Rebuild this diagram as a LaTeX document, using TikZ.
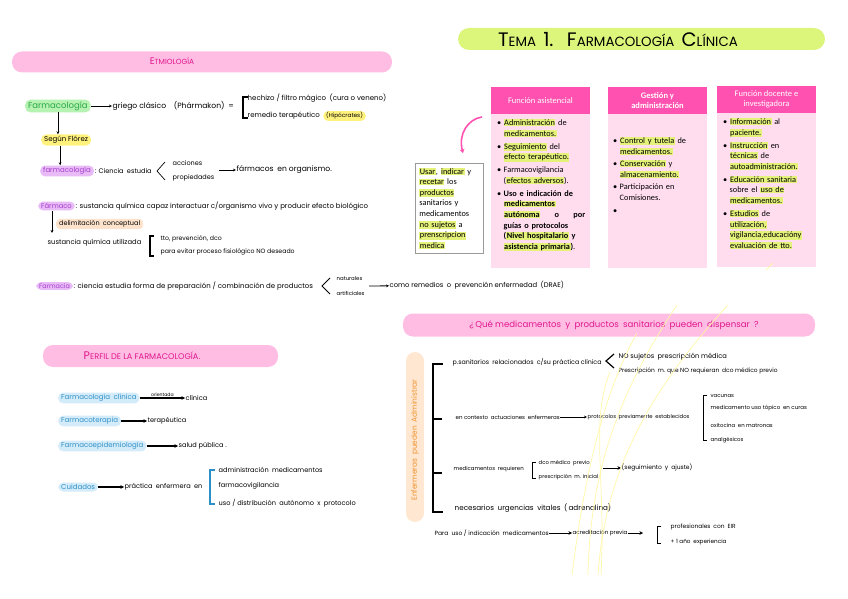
\documentclass[tikz,border=0pt]{standalone}
\usepackage{fontspec}
\setmainfont{Poppins}
\newfontfamily\calib{Carlito}
\usepackage{xcolor}
\usetikzlibrary{arrows.meta,positioning}

\definecolor{banpink}{HTML}{FFBDE4}
\definecolor{magtxt}{HTML}{E0168B}
\definecolor{headpink}{HTML}{FF52B0}
\definecolor{bodypink}{HTML}{FFDDEF}
\definecolor{limetitle}{HTML}{DCF67C}
\definecolor{greenpill}{HTML}{B6F2B1}
\definecolor{greentxt}{HTML}{2BA84A}
\definecolor{yellowhl}{HTML}{FFF27C}
\definecolor{purplepill}{HTML}{E8BBF7}
\definecolor{purpletxt}{HTML}{A43CCB}
\definecolor{peach}{HTML}{FDE3CB}
\definecolor{bluepill}{HTML}{D4ECFA}
\definecolor{bluetxt}{HTML}{2C8FC7}
\definecolor{orangepill}{HTML}{FFE7D1}
\definecolor{orangetxt}{HTML}{F0922E}
\definecolor{hlime}{HTML}{E4F27A}
\definecolor{boxgray}{HTML}{9A9A9A}
\definecolor{paleyellow}{HTML}{FFF7A6}

\newcommand{\hl}[1]{{\setlength{\fboxsep}{0.5pt}\colorbox{hlime}{#1}}}
\newcommand{\bul}{\makebox[6.5pt][l]{\textbullet}}
\newcommand{\ind}{\hspace*{6.5pt}}
\newcommand{\initial}[2]{{\fontsize{#1}{#1}\selectfont #2}}
\newcommand{\fs}[1]{\fontsize{#1}{#1}\selectfont}

\begin{document}
\begin{tikzpicture}[x=1pt,y=-1pt,
    hw/.style={font=\fs{6.6}, inner sep=0.5pt, anchor=west},
    hws/.style={font=\fs{5.4}, inner sep=0.5pt, anchor=west},
    tiny/.style={font=\fs{4.6}, inner sep=0.5pt, anchor=west},
    pill/.style={rounded corners=5pt, inner xsep=3pt, inner ysep=1.8pt, anchor=west},
    banner/.style={fill=banpink, rounded corners=10pt, minimum height=21pt},
    bantext/.style={text=magtxt, inner sep=0.5pt},
    head/.style={fill=headpink, text=white, font=\calib\fontsize{8.5}{10}\selectfont, align=center,
      minimum width=99pt, minimum height=27pt, inner sep=1pt},
    boxtxt/.style={font=\calib\fontsize{8.3}{10.6}\selectfont, align=left, anchor=north west, inner sep=0pt},
    arr/.style={-{Stealth[length=3pt,width=2.8pt]}, line width=0.5pt},
    barr/.style={-{Stealth[length=3.6pt,width=3.8pt]}, line width=1.3pt},
    brk/.style={line width=1.2pt},
    yline/.style={paleyellow, line width=0.7pt}]
  \useasboundingbox (0,0) rectangle (848,599);

  % etimologia
  \node[banner, minimum width=380pt] (etimbar) at (202,62) {};
  \node[bantext, font=\fs{7.4}] (etim) at (172,61) {\initial{9.5}{E}TMIOLOGÍA};

  \node[pill, fill=greenpill, text=greentxt, font=\fs{8.5}] (farmgr) at (25,106) {Farmacología};
  \node[hw, font=\fs{7.6}] (griego) at (112,106) {griego clásico\quad (Phármakon)\enspace =};
  \draw[arr] (farmgr) -- (griego);
  \draw[brk] (248,97) -- (243,97) -- (243,118) -- (248,118);
  \node[hw, font=\fs{7}] (hechizo) at (247,98) {hechizo / filtro mágico\enspace (cura o veneno)};
  \node[hw, font=\fs{7}] (remedio) at (247,116) {remedio terapéutico};
  \node[pill, fill=yellowhl, font=\fs{5.8}, inner ysep=1.5pt] (hipo) at (323,116) {(Hipócrates)};

  \node[pill, fill=yellowhl, font=\fs{7}] (flor) at (41,140) {Según Flórez};
  \draw[arr] (farmgr.south) -- (farmgr.south |- flor.north);
  \node[pill, fill=purplepill, text=purpletxt, font=\fs{7}] (farmacol) at (40,171) {farmacología};
  \draw[arr] ([xshift=-6pt]flor.south) -- ([xshift=-6pt]flor.south |- farmacol.north);
  \node[hw] (ciencia) at (farmacol.east) {: Ciencia\enspace estudia};
  \draw[line width=0.7pt] (165,162) -- (157,171) -- (165,180);
  \node[hws, font=\fs{6.5}] (acciones) at (172,163) {acciones};
  \node[hws, font=\fs{6.5}] (propied) at (172,178) {propiedades};
  \coordinate (aprop) at (219,170);
  \node[hw, font=\fs{7.6}] (farmacos) at (236,170) {fármacos\enspace en organismo.};
  \draw[arr] (aprop) -- (farmacos);

  \node[pill, fill=purplepill, text=purpletxt, font=\fs{6.8}] (farmaco) at (38,206) {Fármaco};
  \node[hw, font=\fs{7}] (sustancia) at (farmaco.east) {: sustancia química capaz interactuar c/organismo vivo y producir efecto biológico};
  \coordinate (dlow) at (52,233);
  \draw[arr] (farmaco.south -| dlow) -- (dlow);
  \node[pill, fill=peach, font=\fs{6.5}, rounded corners=4pt] (delim) at (56,224) {delimitación\enspace conceptual};
  \node[hw, font=\fs{6.8}] (utiliz) at (47,243) {sustancia química utilizada};
  \draw[brk] (154,236) -- (150,236) -- (150,256) -- (154,256);
  \node[hws, font=\fs{6.2}] (tto) at (160,239) {tto, prevención, dco};
  \node[hws, font=\fs{6.2}] (evitar) at (160,252) {para evitar proceso fisiológico NO deseado};

  \node[pill, fill=purplepill, text=purpletxt, font=\fs{6.4}, inner ysep=1.5pt] (farmacia) at (36,286) {Farmacia};
  \node[hws, font=\fs{7}] (estudia) at (farmacia.east) {: ciencia estudia forma de preparación / combinación de productos};
  \draw[line width=0.9pt] (330,278) -- (322,286) -- (330,294);
  \node[tiny, font=\fs{5.4}] (natur) at (336,279) {naturales};
  \node[tiny, font=\fs{5.4}] (artif) at (336,293) {artificiales};
  \coordinate (anat) at (369,286);
  \node[hws, font=\fs{6.8}] (remedios) at (389,285) {como remedios\enspace o\enspace prevención enfermedad\enspace (DRAE)};
  \draw[arr, line width=0.8pt] (anat) -- (remedios);

  % titulo
  \node[fill=limetitle, rounded corners=11pt, minimum width=367pt, minimum height=22pt] (titbar) at (641.5,39) {};
  \node[font=\fs{13.4}, inner sep=0.5pt] (titulo) at (618,40)
    {\initial{19.5}{T}EMA\ \ \initial{19.5}{1.}\quad \initial{19.5}{F}ARMACOLOGÍA\ \ \initial{19.5}{C}LÍNICA};

  % funciones
  \fill[bodypink] (491,114) rectangle (590,268);
  \fill[bodypink] (608,114) rectangle (707,268);
  \fill[bodypink] (717,113) rectangle (816,267);
  \node[head] (asist) at (540.5,100.5) {Función asistencial};
  \node[head, font=\calib\bfseries\fontsize{8.5}{10}\selectfont] (gestion) at (657.5,100.5) {Gestión y\\administración};
  \node[head] (docente) at (766.5,99.5) {Función docente e\\investigadora};

  \node[boxtxt, text width=88pt] (asisttxt) at (497,119) {%
    \bul\hl{Administración} de\\
    \ind\hl{medicamentos.}\\[2.4pt]
    \bul\hl{Seguimiento} del\\
    \ind\hl{efecto terapéutico.}\\[2.4pt]
    \bul Farmacovigilancia\\
    \ind(\hl{efectos adversos}).\\[2.4pt]
    \bul\textbf{Uso e indicación de}\\
    \ind\textbf{\hl{medicamentos}}\\
    \ind\textbf{\hl{autónoma}\hfill o\hfill por}\\
    \ind\textbf{guías o protocolos}\\
    \ind\textbf{(\hl{Nivel hospitalario} y}\\
    \ind\textbf{\hl{asistencia primaria})}.};
  \node[boxtxt, text width=86pt] (gesttxt) at (613,137) {%
    \bul\hl{Control y tutela} de\\
    \ind\hl{medicamentos.}\\[2pt]
    \bul\hl{Conservación} y\\
    \ind\hl{almacenamiento.}\\[2pt]
    \bul Participación en\\
    \ind Comisiones.\\[2pt]
    \bul};
  \node[boxtxt, text width=88pt] (docentxt) at (723,118) {%
    \bul\hl{Información} al\\
    \ind\hl{paciente.}\\[2.4pt]
    \bul\hl{Instrucción} en\\
    \ind\hl{técnicas} de\\
    \ind\hl{autoadministración.}\\[2.4pt]
    \bul\hl{Educación sanitaria}\\
    \ind sobre el \hl{uso de}\\
    \ind\hl{medicamentos.}\\[2.4pt]
    \bul\hl{Estudios} de\\
    \ind\hl{utilización,}\\
    \ind\hl{vigilancia,educacióny}\\
    \ind\hl{evaluación de tto.}};

  \node[draw=boxgray, line width=0.8pt, fill=white, boxtxt, text width=60pt, inner xsep=4pt, inner ysep=4.5pt,
    minimum height=90pt] (usar) at (415,163) {%
    \hl{Usar}, \hl{indicar} y\\
    \hl{recetar} los\\
    \hl{productos}\\
    sanitarios y\\
    medicamentos\\
    \hl{no sujetos} a\\
    \hl{prenscripcion}\\
    \hl{medica}};
  \coordinate (cstart) at (482,117);
  \coordinate (cend) at (463,153);
  \draw[headpink, line width=1.6pt, -{Stealth[length=4pt,width=5pt]}] (cstart) .. controls (468,119) and (458,134) .. (cend);

  % perfil
  \node[banner, minimum width=235pt, minimum height=22pt] (perfilbar) at (160.5,356) {};
  \node[bantext, font=\fs{8.2}, anchor=west] (perfil) at (83,356) {\initial{11}{P}ERFIL DE LA FARMACOLOGÍA.};

  \node[pill, fill=bluepill, text=bluetxt, font=\fs{7}] (fclin) at (58,398) {Farmacología\enspace clínica};
  \node[hw] (clinica) at (185,398) {clínica};
  \draw[barr] (fclin) -- node[above, tiny, anchor=south, inner sep=1pt] {orientada} (clinica);
  \node[pill, fill=bluepill, text=bluetxt, font=\fs{7}] (fter) at (58,421) {Farmacoterapia};
  \node[hw] (terap) at (147,421) {terapéutica};
  \draw[barr] (fter) -- (terap);
  \node[pill, fill=bluepill, text=bluetxt, font=\fs{7}] (fepi) at (58,446) {Farmacoepidemiología};
  \node[hw] (salud) at (178,446) {salud pública .};
  \draw[barr] (fepi) -- (salud);
  \node[pill, fill=bluepill, text=bluetxt, font=\fs{7}] (cuid) at (58,487) {Cuidados};
  \node[hw] (practica) at (124,487) {práctica\enspace enfermera\enspace en};
  \draw[barr] (cuid) -- (practica);
  \draw[bluetxt, line width=1.8pt] (215,470) -- (210,470) -- (210,504) -- (215,504);
  \node[hw] (admmed) at (218,470) {administración\enspace medicamentos};
  \node[hw] (fvig) at (218,486) {farmacovigilancia};
  \node[hw] (usodist) at (218,503) {uso / distribución\enspace autónomo\enspace x\enspace protocolo};

  % que pueden dispensar
  \node[banner, minimum width=412pt, minimum height=23pt] (qbar) at (609,325) {};
  \node[bantext, font=\fs{8.6}] (pregunta) at (614,325)
    {¿\,Qué medicamentos\enspace y\enspace productos\enspace sanitarios\enspace pueden\enspace dispensar\enspace ?};

  \node[fill=orangepill, rounded corners=9pt, minimum width=18pt, minimum height=170pt] (enfbar) at (415,437) {};
  \node[rotate=90, text=orangetxt, font=\fs{7.4}, inner sep=0.5pt] (enf) at (415,440)
    {Enfermeras\enspace pueden\enspace Administrar};
  \draw[brk, line width=1.3pt] (443,364) -- (433,364) -- (433,512) -- (443,512);
  \draw[brk, line width=1.3pt] (433,419) -- (442,419);
  \draw[brk, line width=1.3pt] (433,473) -- (442,473);

  \node[hws, font=\fs{6.3}] (psan) at (452,362) {p.sanitarios\enspace relacionados\enspace c/su práctica clínica};
  \draw[line width=1.2pt] (614,354) -- (606,361) -- (614,368);
  \node[hws, font=\fs{6.7}] (nosuj) at (618,357) {NO sujetos\enspace prescripción médica};
  \node[hws, font=\fs{5.9}] (presc) at (618,371) {Prescripción\enspace m. que NO requieran\enspace dco médico previo};

  \node[hws, font=\fs{5.5}] (contexto) at (455,417) {en contexto\enspace actuaciones\enspace enfermeras};
  \node[hws, font=\fs{5.3}] (protoc) at (587,417) {protocolos\enspace previamente\enspace establecidos};
  \draw[arr] (contexto) -- (protoc);
  \draw[brk, line width=1pt] (707,395) -- (703,395) -- (703,440) -- (707,440);
  \node[hws, font=\fs{5.4}] (vacunas) at (710,396) {vacunas};
  \node[hws, font=\fs{5.5}] (topico) at (710,408) {medicamento uso tópico\enspace en curas};
  \node[hws, font=\fs{5.4}] (oxito) at (710,425) {oxitocina\enspace en matronas};
  \node[hws, font=\fs{5.4}] (analg) at (710,440) {analgésicos};

  \node[hws, font=\fs{5.4}] (requier) at (453,469) {medicamentos\enspace requieren};
  \draw[brk, line width=1pt] (536,462) -- (532,462) -- (532,478) -- (536,478);
  \node[hws, font=\fs{5.3}] (dcomed) at (538,463) {dco médico\enspace previo};
  \node[hws, font=\fs{5.3}] (inicial) at (538,477) {prescripción\enspace m. inicial};
  \coordinate (aseg) at (603,468);
  \node[hws, font=\fs{6}] (seguim) at (621,468) {(seguimiento\enspace y\enspace ajuste)};
  \draw[barr, line width=1pt] (aseg) -- (seguim);

  \node[hws, font=\fs{7.2}] (urgen) at (454,508) {necesarios\enspace urgencias\enspace vitales\enspace (\,adrenalina)};

  \node[hws, font=\fs{6}] (parauso) at (434,533) {Para\enspace uso / indicación\enspace medicamentos};
  \node[hws, font=\fs{5.6}] (acred) at (572,533) {acreditación previa};
  \draw[barr, line width=1pt] (parauso) -- (acred);
  \coordinate (aeir) at (643,533);
  \draw[barr, line width=1pt] (acred) -- (aeir);
  \draw[brk, line width=1pt] (661,526) -- (657,526) -- (657,543) -- (661,543);
  \node[hws, font=\fs{5.9}] (eir) at (670,527) {profesionales\enspace con\enspace EIR};
  \node[hws, font=\fs{5.7}] (exper) at (670,542) {+ 1 año\enspace experiencia};

  % trazos de rotulador
  \draw[yline] (637,333) .. controls (605,390) and (585,470) .. (572,575);
  \draw[yline] (677,305) .. controls (620,390) and (590,470) .. (588,575);
  \draw[yline] (728,305) .. controls (650,390) and (605,470) .. (598,575);
  \draw[yline] (610,372) .. controls (590,420) and (606,480) .. (601,575);
  \draw[yline] (766,270) -- (773,263);
\end{tikzpicture}
\end{document}
